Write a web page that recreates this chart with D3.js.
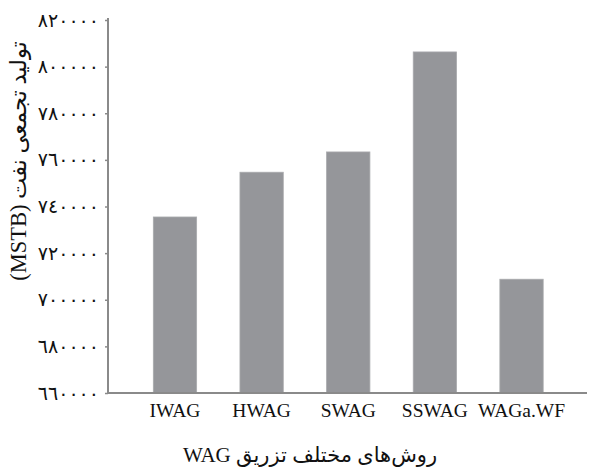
<!DOCTYPE html>
<html>
<head>
<meta charset="utf-8">
<script src="https://cdn.jsdelivr.net/npm/d3@7"></script>
<style>
  body { margin: 0; background: #fff; }
  text { font-family: "Liberation Serif", "DejaVu Sans", serif; fill: #111; }
</style>
</head>
<body>
<svg id="chart"></svg>
<script>
(() => {
  const width = 595;
  const height = 469;

  const methods = ["IWAG", "HWAG", "SWAG", "SSWAG", "WAGa.WF"];
  const production = [735500, 754700, 763400, 806300, 708800];
  const yTicks = [660000, 680000, 700000, 720000, 740000, 760000, 780000, 800000, 820000];

  const xTitle = "روش‌های مختلف تزریق WAG";
  const yTitle = "تولید تجمعی نفت (MSTB)";

  const axisX = 108;
  const baseY = 393;
  const topY = 20;

  const arabicDigits = "٠١٢٣٤٥٦٧٨٩";
  const toArabic = (n) => String(n).replace(/\d/g, (c) => arabicDigits[+c]);

  const svg = d3.select("#chart").attr("width", width).attr("height", height);

  const x = d3.scaleBand().domain(methods).range([110, 586.5]).padding(0.5);
  const y = d3.scaleLinear().domain([660000, 820000]).range([baseY, topY]);

  // bars
  svg
    .append("g")
    .selectAll("rect")
    .data(methods)
    .join("rect")
    .attr("x", (d) => x(d))
    .attr("width", x.bandwidth())
    .attr("y", (d, i) => y(production[i]))
    .attr("height", (d, i) => baseY - y(production[i]))
    .attr("fill", "#95969a")
    .attr("stroke", "#a9aaad")
    .attr("stroke-width", 0.8);

  // y axis
  const yAxis = svg
    .append("g")
    .attr("transform", `translate(${axisX},0)`)
    .call(
      d3.axisLeft(y).tickValues(yTicks).tickSize(3).tickPadding(6).tickFormat(toArabic)
    );
  yAxis.select(".domain").attr("stroke", "#8a8a8a").attr("stroke-width", 2)
    .attr("d", `M0,${topY - 2}V${baseY}`);
  yAxis.selectAll(".tick line").attr("stroke", "#8a8a8a").attr("stroke-width", 1.5);
  yAxis.selectAll(".tick text").attr("font-size", 19).attr("fill", "#111");

  // x axis
  const xAxis = svg
    .append("g")
    .attr("transform", `translate(0,${baseY})`)
    .call(d3.axisBottom(x).tickSize(0).tickPadding(10));
  xAxis.select(".domain").attr("stroke", "#8a8a8a").attr("stroke-width", 2)
    .attr("d", `M${axisX - 1},0H587`);
  xAxis.selectAll(".tick text").attr("font-size", 19.5).attr("fill", "#111");

  // titles
  svg
    .append("text")
    .attr("x", 310)
    .attr("y", 462)
    .attr("text-anchor", "middle")
    .attr("direction", "rtl")
    .attr("font-size", 21)
    .text(xTitle);

  svg
    .append("text")
    .attr("transform", "translate(26,161) rotate(-90)")
    .attr("text-anchor", "middle")
    .attr("direction", "rtl")
    .attr("font-size", 22.5)
    .text(yTitle);
})();
</script>
</body>
</html>
